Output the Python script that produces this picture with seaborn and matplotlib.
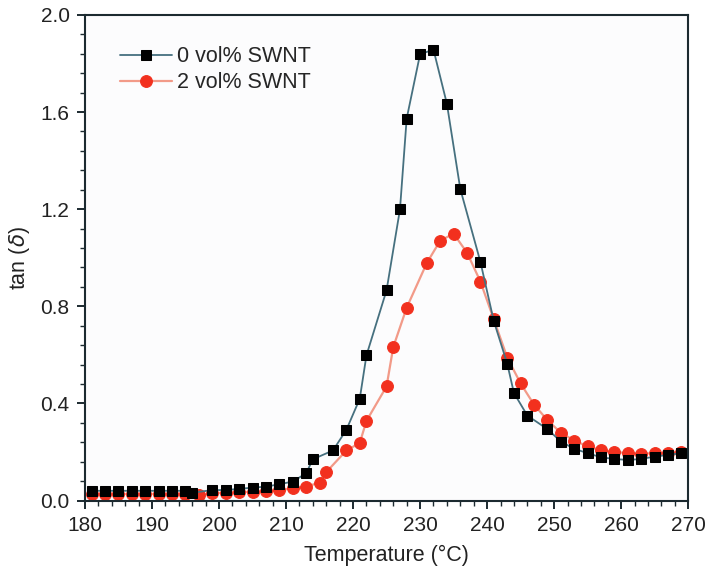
import pandas as pd
import matplotlib
matplotlib.use("Agg")
from matplotlib import pyplot as plt
from matplotlib.ticker import MultipleLocator
import seaborn as sns

# Temperature (°C) and tan(delta)
temp_0 = [181, 183, 185, 187, 189, 191, 193, 195, 196, 199, 201, 203, 205,
          207, 209, 211, 213, 214, 217, 219, 221, 222, 225, 227, 228, 230,
          232, 234, 236, 239, 241, 243, 244, 246, 249, 251, 253, 255, 257,
          259, 261, 263, 265, 267, 269]
tan_0 = [0.040, 0.040, 0.040, 0.040, 0.040, 0.040, 0.040, 0.040, 0.032,
         0.043, 0.043, 0.048, 0.053, 0.057, 0.067, 0.078, 0.112, 0.170,
         0.206, 0.291, 0.419, 0.598, 0.866, 1.199, 1.573, 1.838, 1.857,
         1.634, 1.283, 0.983, 0.739, 0.564, 0.443, 0.350, 0.294, 0.243,
         0.213, 0.195, 0.178, 0.171, 0.167, 0.171, 0.181, 0.188, 0.195]

temp_2 = [181, 183, 185, 187, 189, 191, 193, 195, 197, 199, 201, 203, 205,
          207, 209, 211, 213, 215, 216, 219, 221, 222, 225, 226, 228, 231,
          233, 235, 237, 239, 241, 243, 245, 247, 249, 251, 253, 255, 257,
          259, 261, 263, 265, 267, 269]
tan_2 = [0.027, 0.027, 0.027, 0.027, 0.027, 0.027, 0.027, 0.027, 0.023,
         0.030, 0.032, 0.034, 0.036, 0.039, 0.043, 0.050, 0.057, 0.074,
         0.117, 0.206, 0.237, 0.328, 0.470, 0.632, 0.794, 0.978, 1.070,
         1.099, 1.021, 0.902, 0.746, 0.589, 0.482, 0.395, 0.331, 0.279,
         0.247, 0.223, 0.207, 0.200, 0.195, 0.193, 0.195, 0.195, 0.199]

labels = ["0 vol% SWNT", "2 vol% SWNT"]

df0 = pd.DataFrame({"T": temp_0, "tan": tan_0})
df2 = pd.DataFrame({"T": temp_2, "tan": tan_2})

sns.set_style("ticks")
plt.rcParams["font.family"] = ["Liberation Sans", "DejaVu Sans"]
plt.rcParams["mathtext.fontset"] = "dejavusans"

fig = plt.figure(figsize=(7.08, 5.73), dpi=100)
ax = fig.add_axes([0.12, 0.1265, 0.852, 0.8475])
ax.set_facecolor("#fcfcfd")

sns.lineplot(data=df0, x="T", y="tan", ax=ax, color="#46707f", lw=1.3,
             marker="s", markersize=7.5, markerfacecolor="black",
             markeredgecolor="black", label=labels[0], zorder=3)
sns.lineplot(data=df2, x="T", y="tan", ax=ax, color="#f29a88", lw=1.6,
             marker="o", markersize=8.5, markerfacecolor="#f2301e",
             markeredgecolor="#f2301e", label=labels[1], zorder=2)

ax.set_xlim(180, 270)
ax.set_ylim(0, 2.0)
ax.xaxis.set_major_locator(MultipleLocator(10))
ax.xaxis.set_minor_locator(MultipleLocator(2))
ax.yaxis.set_major_locator(MultipleLocator(0.4))
ax.yaxis.set_minor_locator(MultipleLocator(0.08))
ax.yaxis.set_major_formatter(matplotlib.ticker.FormatStrFormatter("%.1f"))

ax.tick_params(axis="both", which="major", direction="out", length=6,
               width=1.4, labelsize=15, color="#1c2a30", pad=5,
               labelcolor="#222222")
ax.tick_params(axis="both", which="minor", direction="out", length=3.5,
               width=1.0, color="#1c2a30")
for s in ax.spines.values():
    s.set_linewidth(1.5)
    s.set_color("#1c2a30")

ax.set_xlabel("Temperature (\u00b0C)", fontsize=15.5, color="#222222",
              labelpad=7)
ax.set_ylabel(r"tan ($\delta$)", fontsize=15.5, color="#222222",
              labelpad=6)

leg = ax.legend(loc="upper left", bbox_to_anchor=(0.058, 0.935),
                frameon=False, fontsize=15.5, handlelength=2.4,
                handletextpad=0.25, labelspacing=0.22, borderaxespad=0,
                borderpad=0)

fig.savefig("out.png", dpi=100)
